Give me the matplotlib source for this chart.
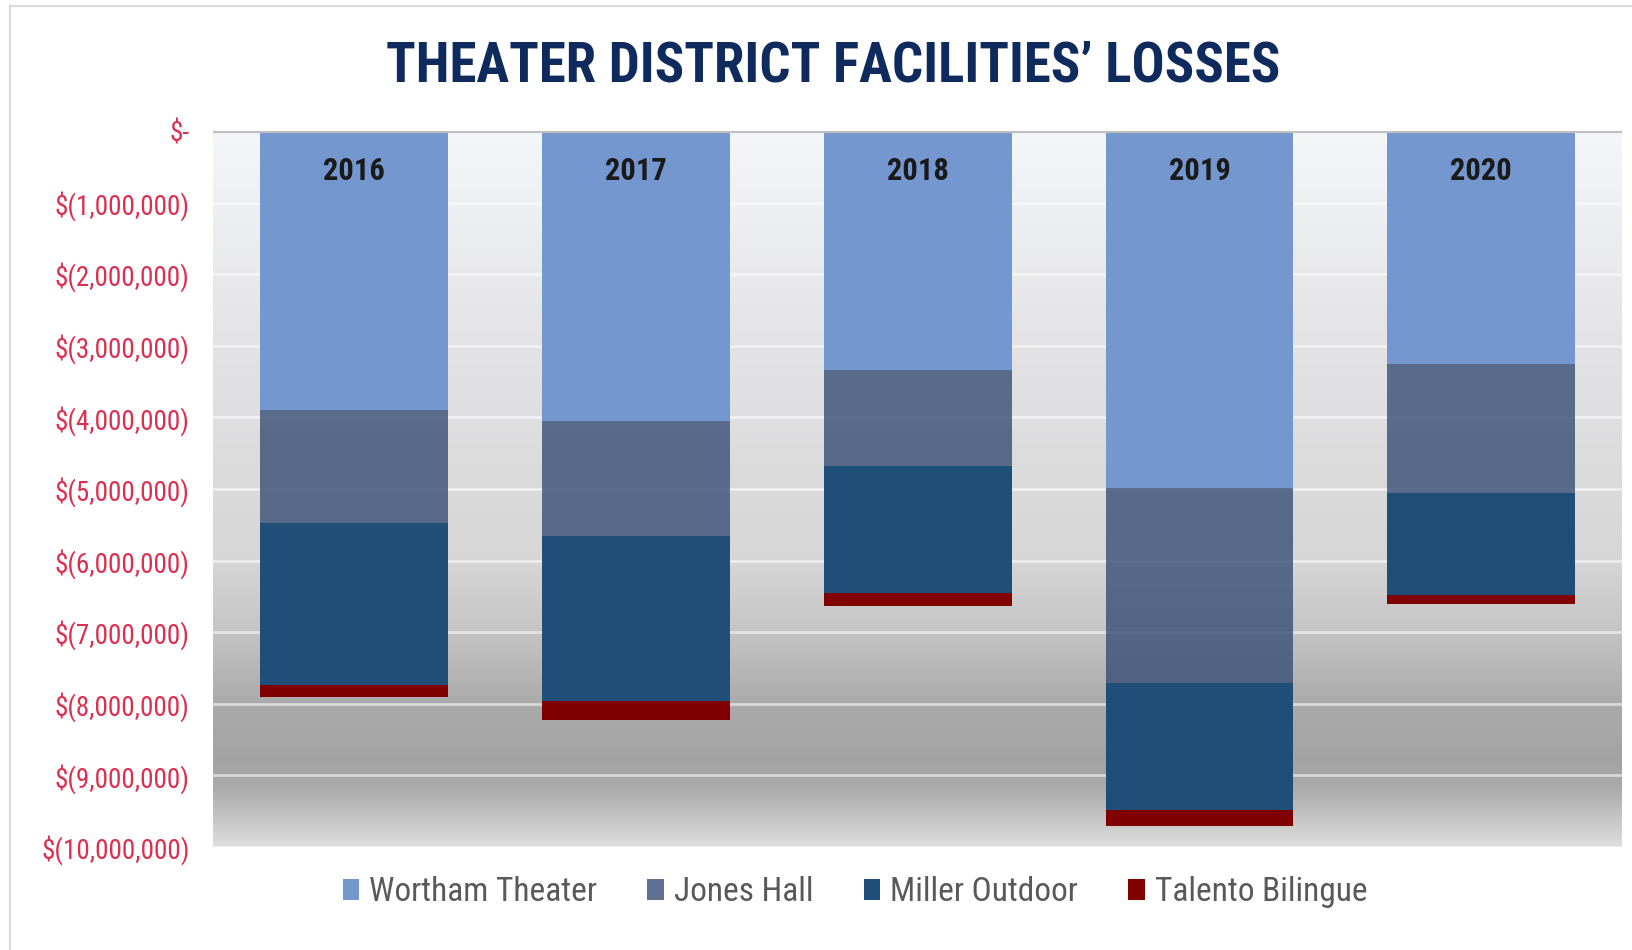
import numpy as np
import matplotlib
matplotlib.use("Agg")
import matplotlib.pyplot as plt
from matplotlib.colors import LinearSegmentedColormap
from matplotlib.ticker import FuncFormatter
from matplotlib.lines import Line2D

years = ["2016", "2017", "2018", "2019", "2020"]
facilities = ["Wortham Theater", "Jones Hall", "Miller Outdoor", "Talento Bilingue"]
# losses in dollars
wortham = [3890000, 4050000, 3340000, 4990000, 3260000]
jones = [1580000, 1610000, 1340000, 2720000, 1800000]
miller = [2270000, 2300000, 1770000, 1770000, 1420000]
talento = [160000, 260000, 190000, 230000, 130000]
yticks = list(range(0, -11000000, -1000000))

colors = ["#7597d0", "#374e75", "#1f4e79", "#800000"]
alphas = [1.0, 0.8, 1.0, 1.0]

plt.rcParams["font.family"] = ["Roboto Condensed", "Liberation Sans", "DejaVu Sans"]

fig = plt.figure(figsize=(16.33, 9.5), dpi=100)
ax = fig.add_axes([0.1307, 0.1084, 0.8626, 0.7537])

# gradient background
stops = [(0.0, (0.96, 0.965, 0.975)), (0.3, (0.89, 0.89, 0.90)), (0.6, (0.84, 0.84, 0.84)),
         (0.7, (0.77, 0.77, 0.77)), (0.8, (0.67, 0.67, 0.67)), (0.88, (0.64, 0.64, 0.64)),
         (0.92, (0.67, 0.67, 0.67)), (1.0, (0.87, 0.87, 0.87))]
cmap = LinearSegmentedColormap.from_list("bg", stops)
grad = np.linspace(0, 1, 256).reshape(-1, 1)
ax.imshow(grad, cmap=cmap, extent=[-0.5, 4.5, -10000000, 0], aspect="auto", zorder=0, origin="upper")

for t in yticks[1:]:
    ax.axhline(t, color="white", alpha=0.55, lw=2, zorder=1)
ax.axhline(0, color="#bfbfbf", lw=3, zorder=4)

x = np.arange(len(years))
bottom = np.zeros(len(years))
for vals, name, c, a in zip([wortham, jones, miller, talento], facilities, colors, alphas):
    v = -np.array(vals, dtype=float)
    ax.bar(x, v, bottom=bottom, width=0.667, color=c, alpha=a, label=name, zorder=2)
    bottom += v

for xi, yr in zip(x, years):
    ax.text(xi, -560000, yr, ha="center", va="center", fontsize=22, fontweight="bold", color="#1a1a1a", zorder=5)

ax.set_xlim(-0.5, 4.5)
ax.set_ylim(-10000000, 0)
ax.set_xticks([])
ax.set_yticks(yticks)
ax.yaxis.set_major_formatter(FuncFormatter(lambda v, p: "$-" if v == 0 else "$({:,.0f})".format(-v)))
ax.tick_params(axis="y", length=0, pad=17, labelsize=19.5, labelcolor="#dc2f4f")
for s in ax.spines.values():
    s.set_visible(False)

fig.text(0.51, 0.93, "THEATER DISTRICT FACILITIES\u2019 LOSSES", ha="center", va="center",
         fontsize=39.5, fontweight="bold", color="#0f2a5c")

leg = fig.legend(loc="center", bbox_to_anchor=(0.5236, 0.061), ncol=4, frameon=False,
                 fontsize=24, handlelength=0.5, handleheight=0.6, handletextpad=0.3, columnspacing=1.5)
for t in leg.get_texts():
    t.set_color("#595959")

# chart border
fig.add_artist(Line2D([0.0064, 1.0], [0.994, 0.994], color="#d9d9d9", lw=1.5))
fig.add_artist(Line2D([0.0064, 0.0064], [0.0, 0.994], color="#d9d9d9", lw=1.5))

fig.savefig("out.png", dpi=100)
